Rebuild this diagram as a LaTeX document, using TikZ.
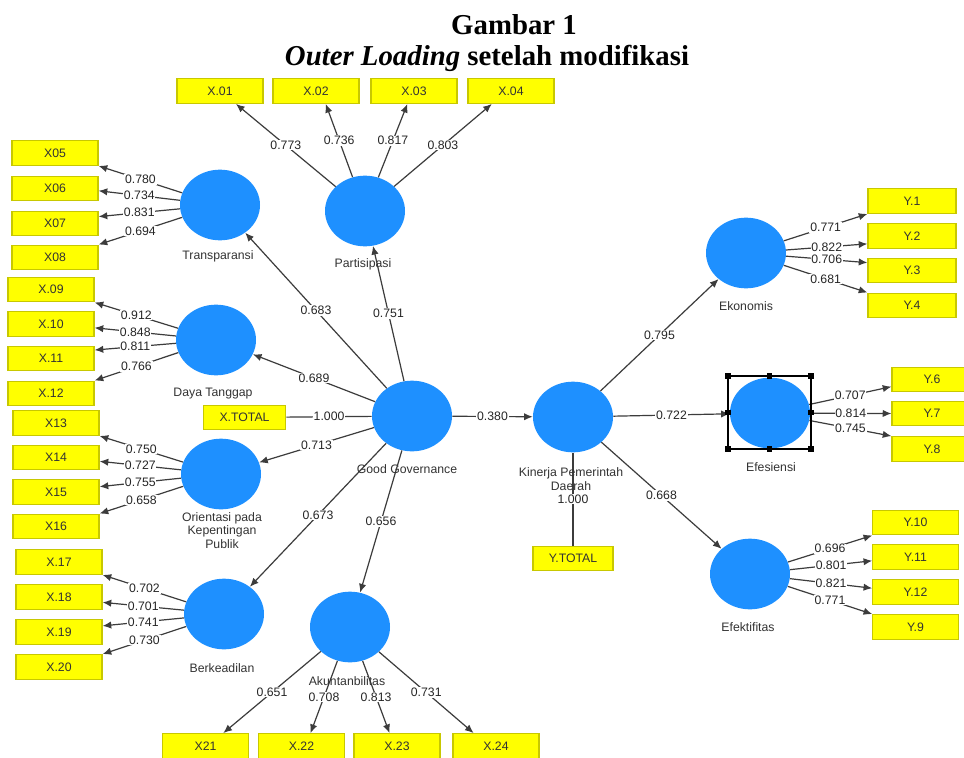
\documentclass[tikz,border=0pt]{standalone}
\usepackage{fontspec}
\setmainfont{Liberation Sans}
\newfontfamily\titlefont{Liberation Serif}
\usetikzlibrary{shapes.geometric,arrows.meta}
\definecolor{lvc}{RGB}{30,144,255}
\definecolor{indc}{RGB}{255,255,0}
\definecolor{indb}{RGB}{200,200,0}
\definecolor{edg}{RGB}{60,60,60}
\tikzset{
 lv/.style={ellipse, fill=lvc, minimum width=60pt, minimum height=53pt, inner sep=0pt},
 ind/.style={rectangle, fill=indc, draw=indb, line width=0.9pt, minimum width=64.5pt, minimum height=18.5pt, inner sep=0pt, font=\fontsize{9.2}{10}\selectfont, text=black!80},
 lab/.style={font=\fontsize{9.2}{11}\selectfont, text=black!80, align=center},
 ld/.style={font=\fontsize{9.2}{11}\selectfont, text=black!85, fill=white, inner sep=0.6pt},
 arr/.style={draw=edg, line width=0.9pt, -{Latex[length=6.5pt,width=5.5pt]}},
 ln/.style={draw=edg, line width=0.9pt},
 handle/.style={fill=black, minimum size=4pt, inner sep=0pt},
 ttl/.style={anchor=base, font=\titlefont\bfseries\fontsize{21.6}{24}\selectfont},
}
\begin{document}
\begin{tikzpicture}[x=0.75pt,y=-0.75pt]
\clip (0,0) rectangle (964,757);
\fill[white] (0,0) rectangle (964,757);
% title
\node[ttl] (t1) at (514,34) {Gambar 1};
\node[ttl] (t2) at (487,65) {\textit{Outer Loading} setelah modifikasi};
% latent variables
\node[lv] (part) at (365,211) {};
\node[lv] (trans) at (220,205) {};
\node[lv] (daya) at (216,340) {};
\node[lv] (orien) at (221,474) {};
\node[lv] (berk) at (224,614) {};
\node[lv] (akun) at (350,627) {};
\node[lv] (gg) at (412,416) {};
\node[lv] (kin) at (573,417) {};
\node[lv] (eko) at (746,253) {};
\node[lv] (efs) at (770,413) {};
\node[lv] (eft) at (750,574) {};
% indicators top
\node[ind] (x01) at (220,91) {X.01};
\node[ind] (x02) at (316,91) {X.02};
\node[ind] (x03) at (414,91) {X.03};
\node[ind] (x04) at (511,91) {X.04};
% left
\node[ind] (x05) at (55,153) {X05};
\node[ind] (x06) at (55,188.5) {X06};
\node[ind] (x07) at (55,223.5) {X07};
\node[ind] (x08) at (55,257.5) {X08};
\node[ind] (x09) at (51,289.5) {X.09};
\node[ind] (x10) at (51,324) {X.10};
\node[ind] (x11) at (51,358.5) {X.11};
\node[ind] (x12) at (51,393.5) {X.12};
\node[ind] (x13) at (56,423) {X13};
\node[ind] (x14) at (56,457.5) {X14};
\node[ind] (x15) at (56,492) {X15};
\node[ind] (x16) at (56,526.5) {X16};
\node[ind] (x17) at (59,562) {X.17};
\node[ind] (x18) at (59,597) {X.18};
\node[ind] (x19) at (59,632) {X.19};
\node[ind] (x20) at (59,667) {X.20};
% bottom
\node[ind] (x21) at (205.5,746) {X21};
\node[ind] (x22) at (301.5,746) {X.22};
\node[ind] (x23) at (397,746) {X.23};
\node[ind] (x24) at (496,746) {X.24};
% totals
\node[ind, minimum width=62pt] (xtot) at (244.5,417.5) {X.TOTAL};
\node[ind, minimum width=60pt] (ytot) at (573,558.5) {Y.TOTAL};
% right
\node[ind, minimum width=66pt] (y1) at (912,201) {Y.1};
\node[ind, minimum width=66pt] (y2) at (912,236) {Y.2};
\node[ind, minimum width=66pt] (y3) at (912,270.5) {Y.3};
\node[ind, minimum width=66pt] (y4) at (912,305.5) {Y.4};
\node[ind, minimum width=60pt] (y6) at (932,379.5) {Y.6};
\node[ind, minimum width=60pt] (y7) at (932,413.5) {Y.7};
\node[ind, minimum width=60pt] (y8) at (932,449) {Y.8};
\node[ind, minimum width=64pt] (y10) at (915.5,522.5) {Y.10};
\node[ind, minimum width=64pt] (y11) at (915.5,557) {Y.11};
\node[ind, minimum width=64pt] (y12) at (915.5,592) {Y.12};
\node[ind, minimum width=64pt] (y9) at (915.5,627) {Y.9};
% structural paths
\draw[arr] (gg) -- node[ld]{0.683} (trans);
\draw[arr] (gg) -- node[ld]{0.751} (part);
\draw[arr] (gg) -- node[ld]{0.689} (daya);
\draw[ln] (xtot) -- node[ld]{1.000} (gg);
\draw[arr] (gg) -- node[ld]{0.713} (orien);
\draw[arr] (gg) -- node[ld]{0.673} (berk);
\draw[arr] (gg) -- node[ld]{0.656} (akun);
\draw[arr] (gg) -- node[ld]{0.380} (kin);
\draw[arr] (kin) -- node[ld]{0.795} (eko);
\draw[arr] (kin) -- node[ld]{0.722} (efs);
\draw[arr] (kin) -- node[ld]{0.668} (eft);
\draw[ln] (ytot) -- node[ld]{1.000} (kin);
% loadings: Partisipasi
\draw[arr] (part) -- node[ld]{0.773} (x01.-39);
\draw[arr] (part) -- node[ld]{0.736} (x02.-53);
\draw[arr] (part) -- node[ld]{0.817} (x03.-117);
\draw[arr] (part) -- node[ld]{0.803} (x04.-146);
% Transparansi
\draw[arr] (trans) -- node[ld]{0.780} (x05.south east);
\draw[arr] (trans) -- node[ld]{0.734} (x06.-3);
\draw[arr] (trans) -- node[ld]{0.831} (x07.9);
\draw[arr] (trans) -- node[ld]{0.694} (x08.north east);
% Daya Tanggap
\draw[arr] (daya) -- node[ld]{0.912} (x09.south east);
\draw[arr] (daya) -- node[ld]{0.848} (x10.-5);
\draw[arr] (daya) -- node[ld]{0.811} (x11.11);
\draw[arr] (daya) -- node[ld]{0.766} (x12.north east);
% Orientasi
\draw[arr] (orien) -- node[ld]{0.750} (x13.south east);
\draw[arr] (orien) -- node[ld]{0.727} (x14.-5);
\draw[arr] (orien) -- node[ld]{0.755} (x15.7);
\draw[arr] (orien) -- node[ld]{0.658} (x16.north east);
% Berkeadilan
\draw[arr] (berk) -- node[ld]{0.702} (x17.south east);
\draw[arr] (berk) -- node[ld]{0.701} (x18.-7);
\draw[arr] (berk) -- node[ld]{0.741} (x19.8);
\draw[arr] (berk) -- node[ld]{0.730} (x20.north east);
% Akuntanbilitas
\draw[arr] (akun) -- node[ld]{0.651} (x21.36);
\draw[arr] (akun) -- node[ld]{0.708} (x22.55);
\draw[arr] (akun) -- node[ld]{0.813} (x23.120);
\draw[arr] (akun) -- node[ld]{0.731} (x24.150);
% Ekonomis
\draw[arr] (eko) -- node[ld]{0.771} (y1.south west);
\draw[arr] (eko) -- node[ld]{0.822} (y2.190);
\draw[arr] (eko) -- node[ld]{0.706} (y3.170);
\draw[arr] (eko) -- node[ld]{0.681} (y4.north west);
% Efesiensi
\draw[arr] (efs) -- node[ld]{0.707} (y6.190);
\draw[arr] (efs) -- node[ld]{0.814} (y7.west);
\draw[arr] (efs) -- node[ld]{0.745} (y8.north west);
% Efektifitas
\draw[arr] (eft) -- node[ld]{0.696} (y10.south west);
\draw[arr] (eft) -- node[ld]{0.801} (y11.185);
\draw[arr] (eft) -- node[ld]{0.821} (y12.175);
\draw[arr] (eft) -- node[ld]{0.771} (y9.north west);
% latent labels
\node[lab] (lpart) at (363,264) {Partisipasi};
\node[lab] (ltrans) at (218,256) {Transparansi};
\node[lab] (ldaya) at (213,394) {Daya Tanggap};
\node[lab, text height=8pt] (lorien) at (222,543) {Orientasi pada\\[-1pt]Kepentingan\\[-1pt]Publik};
\node[lab] (lberk) at (222,668) {Berkeadilan};
\node[lab] (lakun) at (347,681) {Akuntanbilitas};
\node[lab] (lgg) at (407,469) {Good Governance};
\node[lab] (lkin) at (571,479) {Kinerja Pemerintah\\[-1pt]Daerah};
\node[lab] (leko) at (746,306) {Ekonomis};
\node[lab] (lefs) at (771,467) {Efesiensi};
\node[lab] (left) at (748,627) {Efektifitas};
% selection frame around Efesiensi
\draw[black, line width=0.8pt] (728,376) rectangle (811,449);
\node[handle] (h1) at (728,376) {};
\node[handle] (h2) at (769.5,376) {};
\node[handle] (h3) at (811,376) {};
\node[handle] (h4) at (728,412.5) {};
\node[handle] (h5) at (811,412.5) {};
\node[handle] (h6) at (728,449) {};
\node[handle] (h7) at (769.5,449) {};
\node[handle] (h8) at (811,449) {};
\end{tikzpicture}
\end{document}
